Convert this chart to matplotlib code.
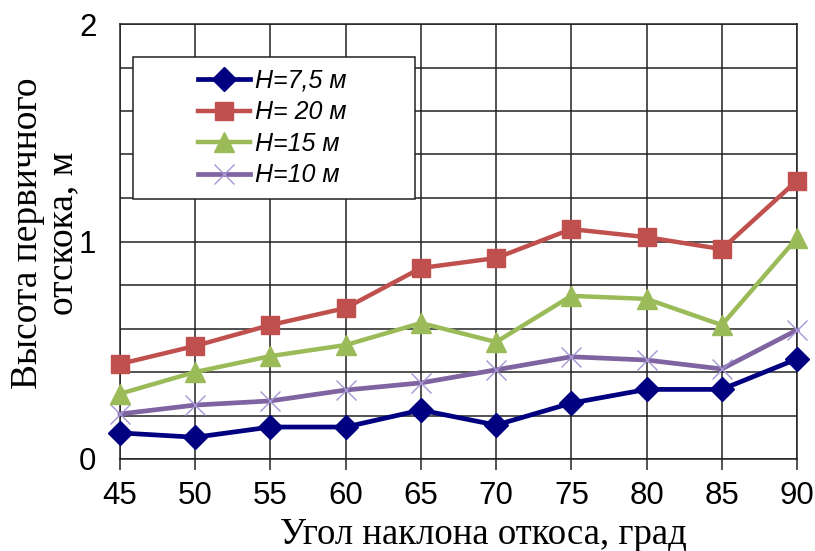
import numpy as np
import matplotlib
matplotlib.use("Agg")
import matplotlib.pyplot as plt
from matplotlib.patches import Rectangle
from matplotlib.ticker import MultipleLocator

# slope angle, degrees
angles = [45, 50, 55, 60, 65, 70, 75, 80, 85, 90]

# height of first rebound, m
h_7_5 = [0.12, 0.10, 0.147, 0.147, 0.225, 0.156, 0.257, 0.32, 0.32, 0.46]
h_20 = [0.437, 0.52, 0.616, 0.694, 0.878, 0.924, 1.057, 1.02, 0.965, 1.28]
h_15 = [0.30, 0.40, 0.473, 0.524, 0.625, 0.538, 0.75, 0.736, 0.616, 1.016]
h_10 = [0.207, 0.248, 0.267, 0.317, 0.35, 0.41, 0.47, 0.455, 0.414, 0.593]

labels = ["H=7,5 м", "H= 20 м", "H=15 м", "H=10 м"]
x_ticks = angles
y_ticks = [0, 1, 2]

sans = "Liberation Sans"
serif = "Liberation Serif"

W, H = 815, 551
fig = plt.figure(figsize=(W / 100, H / 100), dpi=100)
ax = fig.add_axes([120 / W, 1 - 459 / H, 677 / W, 435 / H])

ax.set_xlim(45, 90)
ax.set_ylim(0, 2)

# grid: every x tick, every 0.2 on y
ax.set_xticks(x_ticks)
ax.set_yticks(y_ticks)
ax.yaxis.set_minor_locator(MultipleLocator(0.2))
ax.grid(True, which="both", color="#222222", linewidth=1.1)
ax.set_axisbelow(True)
for s in ax.spines.values():
    s.set_color("#222222")
    s.set_linewidth(1.1)

ax.tick_params(axis="x", direction="out", length=8, width=1.1,
               color="#222222", pad=8, labelsize=22.5)
ax.tick_params(axis="y", which="both", length=0, pad=17, labelsize=22.5)
for t in ax.get_xticklabels() + ax.get_yticklabels():
    t.set_fontfamily(sans)

ax.plot(angles, h_7_5, color="#000080", lw=3.4, marker="D", ms=12,
        label=labels[0], zorder=5, clip_on=False)
ax.plot(angles, h_20, color="#C0504D", lw=3.2, marker="s", ms=13,
        label=labels[1], zorder=4, clip_on=False)
ax.plot(angles, h_15, color="#9BBB59", lw=3.2, marker="^", ms=14,
        label=labels[2], zorder=4, clip_on=False)
ax.plot(angles, h_10, color="#8064A2", lw=3.4, marker="x", ms=14,
        mec="#A597D6", mew=1.0, label=labels[3], zorder=3, clip_on=False)

# legend box drawn by hand, since its padding is wider than tall
box = Rectangle((13 / 677, 260 / 435), 282 / 677, 142 / 435,
                transform=ax.transAxes, facecolor="white",
                edgecolor="#222222", linewidth=1.1, zorder=6)
ax.add_patch(box)
leg = ax.legend(loc="center", bbox_to_anchor=(152 / 677, 331 / 435),
                frameon=False, numpoints=1, handlelength=2.1,
                handletextpad=0.2, labelspacing=0.3,
                prop={"family": sans, "style": "italic", "size": 18})
leg.set_zorder(7)

# axis titles placed in figure pixels
fig.text(483 / W, 1 - 544 / H, "Угол наклона откоса, град",
         fontfamily=serif, fontsize=26.5, ha="center", va="baseline")
fig.text(45 / W, 1 - 233 / H, "Высота первичного\nотскока, м",
         fontfamily=serif, fontsize=27, rotation=90, ha="center",
         va="center", linespacing=1.02, multialignment="center")

fig.savefig("out.png", dpi=100)
